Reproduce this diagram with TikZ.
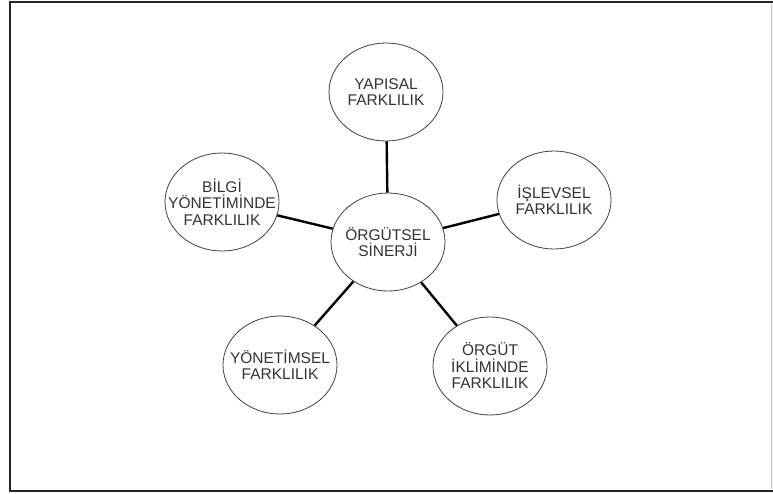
\documentclass[tikz,border=0pt]{standalone}
\usepackage{fontspec}
\setmainfont{Liberation Sans}
\usetikzlibrary{shapes.geometric}
\begin{document}
\begin{tikzpicture}[x=1pt,y=-1pt,
  bubble/.style={ellipse, draw=black!75, line width=0.8pt, fill=white,
    minimum width=114pt, minimum height=98pt, inner xsep=-20pt, inner ysep=-12pt,
    align=center, text=black!80, font=\fontsize{15.5}{16.5}\selectfont},
  link/.style={line width=2.4pt, black}]
\useasboundingbox (0,0) rectangle (773,493);
% frame
\draw[line width=2pt, black!85] (773,2) -- (10,2) -- (10,491) -- (773,491);
\draw[line width=0.8pt, black!25] (771.5,4) -- (771.5,489);
% nodes
\node[bubble] (cen) at (388,242) {ÖRGÜTSEL\\SİNERJİ};
\node[bubble] (yap) at (386,92) {YAPISAL\\FARKLILIK};
\node[bubble] (isl) at (554,200) {İŞLEVSEL\\FARKLILIK};
\node[bubble] (bil) at (222,202) {BİLGİ\\YÖNETİMİNDE\\FARKLILIK};
\node[bubble] (yon) at (280,365) {YÖNETİMSEL\\FARKLILIK};
\node[bubble] (org) at (490,366) {ÖRGÜT\\İKLİMİNDE\\FARKLILIK};
% connectors
\draw[link] (cen) -- (yap);
\draw[link] (cen) -- (isl);
\draw[link] (cen) -- (bil);
\draw[link] (cen) -- (yon);
\draw[link] (cen) -- (org);
\end{tikzpicture}
\end{document}
